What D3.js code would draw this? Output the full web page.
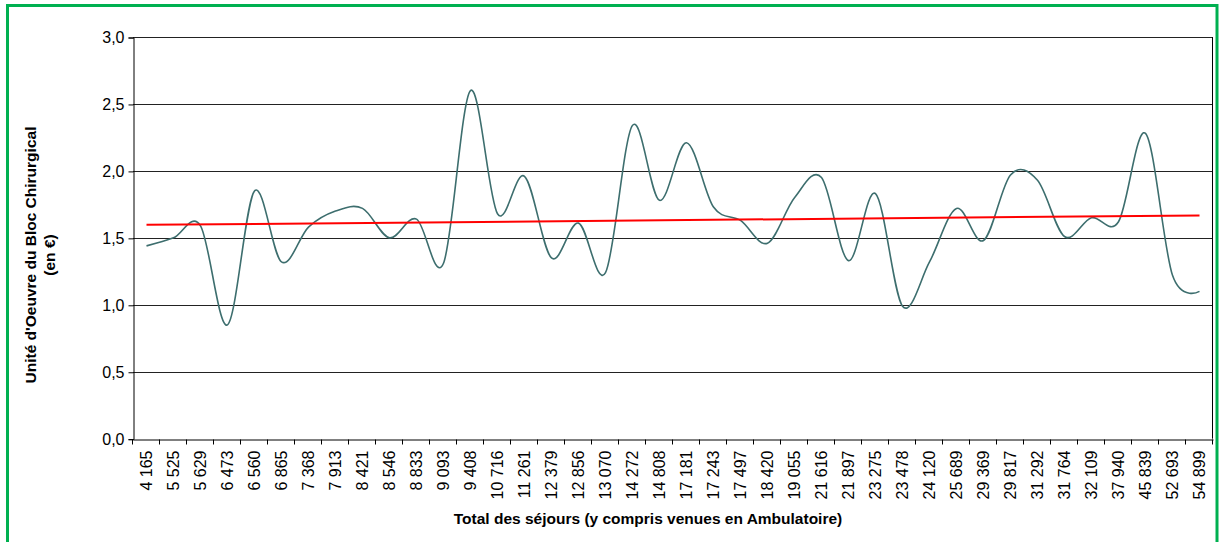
<!DOCTYPE html>
<html>
<head>
<meta charset="utf-8">
<script src="https://cdn.jsdelivr.net/npm/d3@7"></script>
<style>
  body { margin: 0; background: #fff; }
  text { font-family: Arial, "Liberation Sans", sans-serif; }
</style>
</head>
<body>
<script>
// Categories (Total des séjours)
var categories = ['4 165', '5 525', '5 629', '6 473', '6 560', '6 865', '7 368', '7 913', '8 421', '8 546',
                  '8 833', '9 093', '9 408', '10 716', '11 261', '12 379', '12 856', '13 070', '14 272', '14 808',
                  '17 181', '17 243', '17 497', '18 420', '19 055', '21 616', '21 897', '23 275', '23 478', '24 120',
                  '25 689', '29 369', '29 817', '31 292', '31 764', '32 109', '37 940', '45 839', '52 693', '54 899'];

// Unité d'Oeuvre du Bloc Chirurgical (en €)
var values = [1.44, 1.50, 1.59, 0.85, 1.85, 1.32, 1.58, 1.70, 1.72, 1.50,
              1.64, 1.31, 2.60, 1.68, 1.96, 1.35, 1.61, 1.24, 2.34, 1.78,
              2.21, 1.73, 1.63, 1.46, 1.80, 1.95, 1.33, 1.83, 0.99, 1.32,
              1.72, 1.48, 1.97, 1.93, 1.51, 1.65, 1.62, 2.28, 1.22, 1.10];

// Linear trend, first and last category
var trendValues = [1.597, 1.667];

var yTicks = [0, 0.5, 1, 1.5, 2, 2.5, 3];

var width  = 1219,
    height = 542,
    plot   = { left: 133, right: 1213, top: 37, bottom: 438.7 };

var svg = d3.select('body').append('svg')
    .attr('width', width)
    .attr('height', height);

// Green frame (open at the bottom, like the source)
svg.append('rect')
    .attr('x', 7.5).attr('y', 5.5)
    .attr('width', 1209.5).attr('height', 600)
    .style('fill', 'none')
    .style('stroke', '#00b050')
    .style('stroke-width', 3);

var xScale = d3.scaleBand().domain(categories).range([plot.left, plot.right]);
var yScale = d3.scaleLinear().domain([0, 3]).range([plot.bottom, plot.top]);

// Gridlines
svg.append('g').selectAll('line').data(yTicks.slice(1)).enter().append('line')
    .attr('x1', plot.left).attr('x2', plot.right)
    .attr('y1', function(d) { return Math.round(yScale(d)) + 0.5; })
    .attr('y2', function(d) { return Math.round(yScale(d)) + 0.5; })
    .style('stroke', '#222')
    .style('stroke-width', 1);

// Right border of plot area
svg.append('line')
    .attr('x1', plot.right - 0.5).attr('x2', plot.right - 0.5)
    .attr('y1', plot.top).attr('y2', plot.bottom)
    .style('stroke', '#000');

// Y axis
var yAxis = svg.append('g')
    .attr('transform', 'translate(' + (plot.left + 0.5) + ',0.5)')
    .call(d3.axisLeft(yScale)
        .tickValues(yTicks)
        .tickSize(5)
        .tickPadding(4)
        .tickFormat(function(d) { return d.toFixed(1).replace('.', ','); }));
yAxis.selectAll('text').style('font-size', '16px').style('fill', '#000');
yAxis.selectAll('line, path').style('stroke', '#000');

// X axis: labels at category centres, ticks between categories
var xAxis = svg.append('g')
    .attr('transform', 'translate(0,' + (Math.round(plot.bottom) + 0.5) + ')')
    .call(d3.axisBottom(xScale).tickSize(0).tickPadding(0));
xAxis.select('.domain').style('stroke', '#000');
xAxis.selectAll('text')
    .style('font-size', '16px')
    .style('fill', '#000')
    .attr('text-anchor', 'end')
    .attr('transform', 'rotate(-90)')
    .attr('x', -11)
    .attr('y', 0)
    .attr('dy', '0.36em');

var tickPos = categories.map(function(c) { return xScale(c); }).concat([plot.right]);
xAxis.selectAll('.btick').data(tickPos).enter().append('line')
    .attr('class', 'btick')
    .attr('x1', function(d) { return Math.round(d) - 0.5; })
    .attr('x2', function(d) { return Math.round(d) - 0.5; })
    .attr('y1', 0).attr('y2', 5)
    .style('stroke', '#000');

// Data line (smoothed, Excel-like)
var line = d3.line()
    .x(function(d, i) { return xScale(categories[i]) + xScale.bandwidth() / 2; })
    .y(function(d) { return yScale(d); })
    .curve(d3.curveCardinal.tension(0));

svg.append('path')
    .datum(values)
    .attr('d', line)
    .style('fill', 'none')
    .style('stroke', '#3d6e6e')
    .style('stroke-width', 1.6);

// Trend line
var first = categories[0], last = categories[categories.length - 1];
svg.append('line')
    .attr('x1', xScale(first) + xScale.bandwidth() / 2)
    .attr('x2', xScale(last) + xScale.bandwidth() / 2)
    .attr('y1', yScale(trendValues[0]))
    .attr('y2', yScale(trendValues[1]))
    .style('stroke', '#ff0000')
    .style('stroke-width', 2);

// Axis titles
svg.append('text')
    .attr('x', 648).attr('y', 524)
    .attr('text-anchor', 'middle')
    .style('font-size', '15.5px')
    .style('font-weight', 'bold')
    .text('Total des séjours (y compris venues en Ambulatoire)');

var yTitle = svg.append('text')
    .attr('transform', 'translate(36,255) rotate(-90)')
    .attr('text-anchor', 'middle')
    .style('font-size', '15.5px')
    .style('font-weight', 'bold');
yTitle.append('tspan').attr('x', 0).attr('y', 0).text("Unité d'Oeuvre du Bloc Chirurgical");
yTitle.append('tspan').attr('x', 0).attr('y', 19).text('(en €)');
</script>
</body>
</html>
